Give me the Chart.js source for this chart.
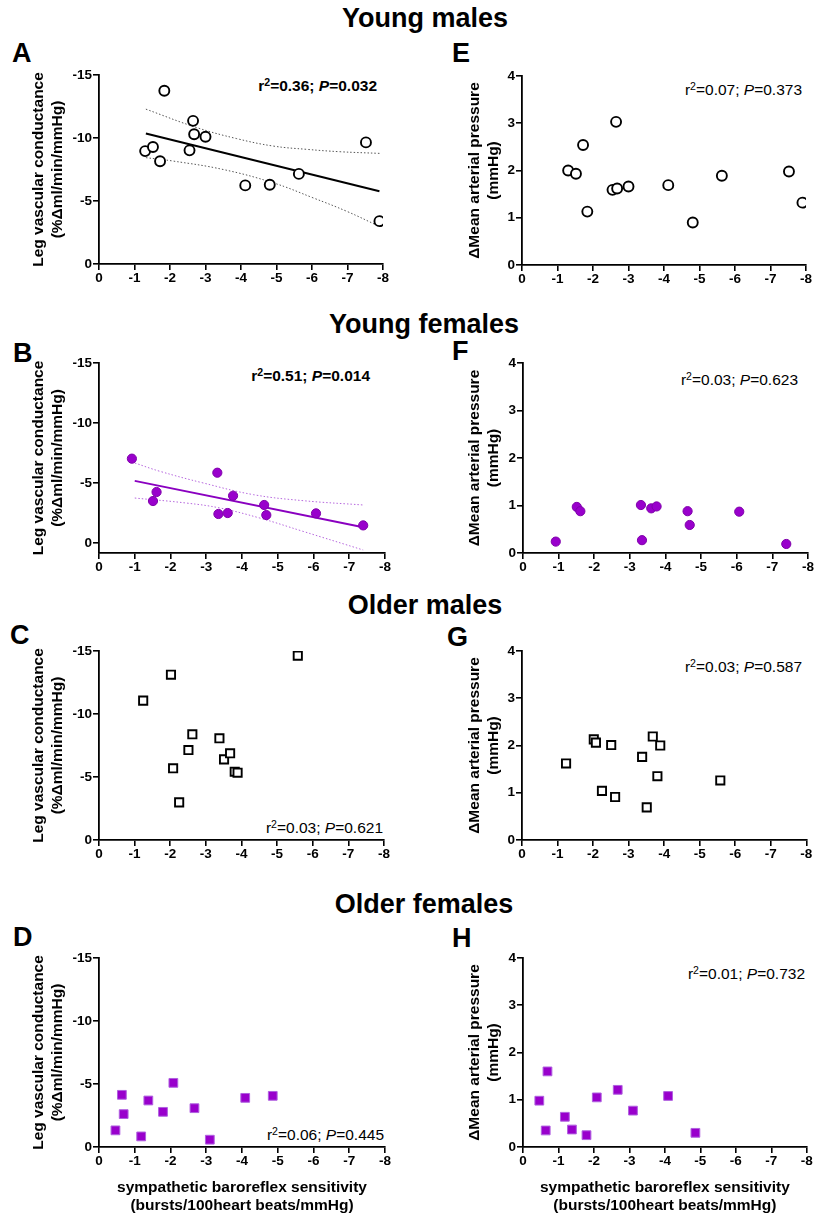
<!DOCTYPE html>
<html><head><meta charset="utf-8">
<script src="https://cdn.jsdelivr.net/npm/chart.js@4"></script>
<style>
body{margin:0;background:#fff;width:814px;height:1218px;position:relative;overflow:hidden;font-family:Arial,"Liberation Sans",sans-serif;color:#000}
canvas{position:absolute}
.t{position:absolute;font-weight:bold;font-size:27px;line-height:1;white-space:nowrap}
.sec{transform:translateX(-50%)}
.ann{position:absolute;font-size:15.5px;line-height:1;white-space:nowrap;text-align:right}
.ann sup{font-size:0.68em;vertical-align:0.5em;line-height:0}
</style></head><body>
<div class="t sec" style="left:425px;top:5px">Young males</div>
<div class="t sec" style="left:424px;top:311px">Young females</div>
<div class="t sec" style="left:425px;top:592px">Older males</div>
<div class="t sec" style="left:424px;top:891px">Older females</div>
<div class="t" style="left:12px;top:40px">A</div>
<div class="t" style="left:452px;top:40px">E</div>
<div class="t" style="left:13px;top:340px">B</div>
<div class="t" style="left:452px;top:338px">F</div>
<div class="t" style="left:10px;top:622px">C</div>
<div class="t" style="left:447px;top:624px">G</div>
<div class="t" style="left:13px;top:924px">D</div>
<div class="t" style="left:452px;top:925px">H</div>
<div class="ann" style="right:437px;top:78px;font-weight:bold">r<sup>2</sup>=0.36; <i>P</i>=0.032</div>
<div class="ann" style="right:12px;top:82px">r<sup>2</sup>=0.07; <i>P</i>=0.373</div>
<div class="ann" style="right:444px;top:368px;font-weight:bold">r<sup>2</sup>=0.51; <i>P</i>=0.014</div>
<div class="ann" style="right:16px;top:372px">r<sup>2</sup>=0.03; <i>P</i>=0.623</div>
<div class="ann" style="right:431px;top:820px">r<sup>2</sup>=0.03; <i>P</i>=0.621</div>
<div class="ann" style="right:12px;top:659px">r<sup>2</sup>=0.03; <i>P</i>=0.587</div>
<div class="ann" style="right:430px;top:1127px">r<sup>2</sup>=0.06; <i>P</i>=0.445</div>
<div class="ann" style="right:9px;top:966px">r<sup>2</sup>=0.01; <i>P</i>=0.732</div>
<script>
// ---------------- DATA ----------------
// x: sympathetic baroreflex sensitivity (bursts/100 heart beats/mmHg)
const xTicks = [0, -1, -2, -3, -4, -5, -6, -7, -8];
const lvcTicks = [-15, -10, -5, 0];
const mapTicks = [0, 1, 2, 3, 4];

// Young males
const ymX   = [-1.30, -1.52, -1.72, -1.84, -2.55, -2.65, -2.68, -3.00, -4.12, -4.81, -5.63, -7.52, -7.90];
const ymLVC = [-8.96, -9.28, -8.16, -13.75, -9.02, -11.36, -10.30, -10.10, -6.24, -6.29, -7.15, -9.65, -3.40];
const ymMAP = [2.00, 1.93, 2.54, 1.13, 1.59, 3.03, 1.62, 1.66, 1.69, 0.90, 1.89, 1.98, 1.32];
const ymFitX = [-1.32, -7.90];
const ymFitY = [-10.35, -5.77];
const ymUpX = [-1.32, -2.75, -3.88, -4.91, -5.85, -6.79, -7.90];
const ymUpY = [-12.29, -10.83, -9.95, -9.36, -9.10, -8.91, -8.78];
const ymLoX = [-1.32, -2.09, -3.50, -4.91, -6.04, -6.98, -7.90];
const ymLoY = [-8.44, -8.17, -7.50, -6.44, -5.24, -4.18, -2.98];

// Young females
const yfX   = [-0.92, -1.51, -1.61, -3.31, -3.34, -3.60, -3.75, -4.62, -4.68, -6.07, -7.39];
const yfLVC = [-7.03, -3.50, -4.25, -5.86, -2.42, -2.50, -3.94, -3.17, -2.33, -2.47, -1.47];
const yfMAP = [0.24, 0.97, 0.88, 1.01, 0.27, 0.94, 0.98, 0.88, 0.59, 0.87, 0.19];
const yfFitX = [-1.00, -7.39];
const yfFitY = [-5.18, -1.31];
const yfUpX = [-1.00, -1.71, -2.92, -4.32, -5.71, -7.39];
const yfUpY = [-6.67, -5.97, -5.00, -4.03, -3.53, -3.17];
const yfLoX = [-1.00, -2.45, -3.38, -4.50, -5.71, -7.39];
const yfLoY = [-3.75, -3.33, -2.92, -2.08, -0.97, 0.58];

// Older males
const omX   = [-1.24, -2.02, -2.08, -2.25, -2.51, -2.62, -3.38, -3.51, -3.68, -3.81, -3.89, -5.58];
const omLVC = [-11.06, -13.12, -5.69, -2.99, -7.14, -8.39, -8.07, -6.40, -6.88, -5.42, -5.34, -14.63];
const omMAP = [1.62, 2.13, 2.06, 1.04, 2.01, 0.91, 1.76, 0.69, 2.19, 1.35, 2.00, 1.26];

// Older females
const ofX   = [-0.46, -0.64, -0.69, -1.18, -1.38, -1.79, -2.08, -2.67, -3.10, -4.09, -4.86];
const ofLVC = [-1.32, -4.14, -2.61, -0.84, -3.69, -2.79, -5.09, -3.08, -0.58, -3.90, -4.06];
const ofMAP = [0.98, 0.35, 1.60, 0.64, 0.37, 0.25, 1.05, 1.21, 0.77, 1.08, 0.30];

const lvcTitle = ['Leg vascular conductance', '(%\u0394ml/min/mmHg)'];
const mapTitle = ['\u0394Mean arterial pressure', '(mmHg)'];
const xTitle = ['sympathetic baroreflex sensitivity', '(bursts/100heart beats/mmHg)'];

// ---------------- LAYOUT / STYLE ----------------
const PURPLE = '#9900CC';
const PURPLE_EDGE = '#7f00aa';
const layout = {
  A:{col:0,L:99,T:75,R:383,B:264},
  E:{col:1,L:522,T:76,R:806,B:265},
  B:{col:0,L:99,T:363,R:385,B:553},
  F:{col:1,L:523,T:363,R:808,B:553},
  C:{col:0,L:99,T:651,R:384,B:840},
  G:{col:1,L:522,T:651,R:807,B:840},
  D:{col:0,L:99,T:958,R:385,B:1147},
  H:{col:1,L:523,T:958,R:808,B:1147}
};

Chart.defaults.font.family = 'Arial, "Liberation Sans", sans-serif';
Chart.defaults.color = '#000';

const pts = (xs, ys) => xs.map((x, i) => ({x: x, y: ys[i]}));

function symbol(kind) {
  switch (kind) {
    case 'oc': return {pointStyle:'circle', pointRadius:5.0, backgroundColor:'#fff', borderColor:'#000', borderWidth:1.9};
    case 'fc': return {pointStyle:'circle', pointRadius:4.6, backgroundColor:PURPLE, borderColor:PURPLE_EDGE, borderWidth:1};
    case 'os': return {pointStyle:'rect', pointRadius:5.8, backgroundColor:'#fff', borderColor:'#000', borderWidth:1.9};
    case 'fs': return {pointStyle:'rect', pointRadius:6.2, backgroundColor:PURPLE, borderColor:'#b060e0', borderWidth:1};
  }
}

function build(key, cfg) {
  const g = layout[key];
  const cx = g.col === 0 ? 0 : 410;
  const cw = g.col === 0 ? 400 : 404;
  const cy = g.T - 35;
  const xh = cfg.bottomRow ? 68 : 30;
  const ch = g.B + xh - cy;
  const cv = document.createElement('canvas');
  cv.width = cw; cv.height = ch;
  cv.style.left = cx + 'px'; cv.style.top = cy + 'px';
  cv.style.width = cw + 'px'; cv.style.height = ch + 'px';
  document.body.appendChild(cv);

  const lh = 19;
  const line1 = g.col === 0 ? 39 : 475;
  const yw = g.L - cx;

  const datasets = [Object.assign({data: pts(cfg.x, cfg.y), showLine:false, order:0}, symbol(cfg.sym))];
  if (cfg.fit) {
    const f = cfg.fit;
    datasets.push({data: pts(f.fx, f.fy), showLine:true, pointRadius:0, borderColor:f.color, borderWidth:2, order:1});
    datasets.push({data: pts(f.ux, f.uy), showLine:true, pointRadius:0, borderColor:f.band, borderWidth:1, borderDash:[1.5,2], tension:0.4, order:2});
    datasets.push({data: pts(f.lx, f.ly), showLine:true, pointRadius:0, borderColor:f.band, borderWidth:1, borderDash:[1.5,2], tension:0.4, order:2});
  }

  const tickFont = {size:13.5, weight:'bold'};
  const gridCfg = {display:true, drawOnChartArea:false, drawTicks:true, tickLength:6, color:'#000', lineWidth:1.6};
  const borderCfg = {display:true, color:'#000', width:1.8};
  const isLvc = cfg.kind === 'lvc';
  const yTickVals = isLvc ? lvcTicks : mapTicks;

  new Chart(cv, {
    type: 'scatter',
    data: {datasets},
    options: {
      responsive:false, animation:false, devicePixelRatio:1,
      layout:{padding:{left:0, top:g.T - cy, right:cx + cw - g.R, bottom:0}},
      plugins:{legend:{display:false}, tooltip:{enabled:false}},
      scales:{
        x:{type:'linear', min:Math.min(...xTicks), max:Math.max(...xTicks), reverse:true,
           afterBuildTicks:(s) => { s.ticks = xTicks.map(v => ({value:v})); },
           ticks:{font:tickFont, color:'#000', padding:0, maxRotation:0, autoSkip:false},
           grid:gridCfg, border:borderCfg,
           title: cfg.bottomRow ? {display:true, text:xTitle, font:{size:15.5, weight:'bold', lineHeight:'18.5px'}, padding:{top:0,bottom:0}, color:'#000'} : {display:false},
           afterFit:(s) => { s.height = xh; }},
        y:{type:'linear', min: isLvc ? -15 : 0, max: isLvc ? (cfg.yMax !== undefined ? cfg.yMax : 0) : 4, reverse:isLvc,
           afterBuildTicks:(s) => { s.ticks = yTickVals.map(v => ({value:v})); },
           ticks:{font:tickFont, color:'#000', padding:1, autoSkip:false},
           grid:gridCfg, border:borderCfg,
           title:{display:true, text: isLvc ? lvcTitle : mapTitle, font:{size:15.5, weight:'bold', lineHeight:lh + 'px'}, padding:{top: line1 - cx - lh/2, bottom:0}, color:'#000'},
           afterFit:(s) => { s.width = yw; }}
      }
    }
  });
}

build('A', {x:ymX, y:ymLVC, kind:'lvc', sym:'oc',
  fit:{fx:ymFitX, fy:ymFitY, ux:ymUpX, uy:ymUpY, lx:ymLoX, ly:ymLoY, color:'#000', band:'#555'}});
build('E', {x:ymX, y:ymMAP, kind:'map', sym:'oc'});
build('B', {x:yfX, y:yfLVC, kind:'lvc', sym:'fc', yMax:0.83,
  fit:{fx:yfFitX, fy:yfFitY, ux:yfUpX, uy:yfUpY, lx:yfLoX, ly:yfLoY, color:'#8a00c0', band:'#b566dd'}});
build('F', {x:yfX, y:yfMAP, kind:'map', sym:'fc'});
build('C', {x:omX, y:omLVC, kind:'lvc', sym:'os'});
build('G', {x:omX, y:omMAP, kind:'map', sym:'os'});
build('D', {x:ofX, y:ofLVC, kind:'lvc', sym:'fs', bottomRow:true});
build('H', {x:ofX, y:ofMAP, kind:'map', sym:'fs', bottomRow:true});
</script>
</body></html>
